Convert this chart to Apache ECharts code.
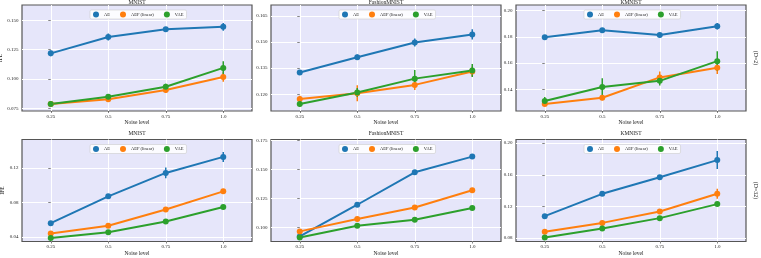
<!DOCTYPE html>
<html><head><meta charset="utf-8">
<script src="https://cdn.jsdelivr.net/npm/echarts@6/dist/echarts.min.js"></script>
<style>html,body{margin:0;padding:0;background:#fff}#c{width:761px;height:258px}</style>
</head><body><div id="c"></div>
<script>
const noise = ['0.25', '0.5', '0.75', '1.0'];
const datasets = ['MNIST', 'FashionMNIST', 'KMNIST'];
const methods = ['AE', 'AEF (linear)', 'VAE'];
const rowLabels = ['(D=2)', '(D=32)'];
const colors = ['#1f77b4', '#ff7f0e', '#2ca02c'];
const yName = 'IFE';

// D=2 row
const d2_mnist_ae = [0.1218, 0.1358, 0.1423, 0.1444];
const d2_mnist_ae_err = [0.0025, 0.003, 0.002, 0.0033];
const d2_mnist_aef = [0.0787, 0.0827, 0.0906, 0.1017];
const d2_mnist_aef_err = [0.0008, 0.0012, 0.0025, 0.004];
const d2_mnist_vae = [0.0787, 0.0849, 0.0934, 0.1094];
const d2_mnist_vae_err = [0.0008, 0.002, 0.0026, 0.0057];

const d2_fashion_ae = [0.1325, 0.1413, 0.1498, 0.1544];
const d2_fashion_ae_err = [0.001, 0.0015, 0.0023, 0.0029];
const d2_fashion_aef = [0.1173, 0.1206, 0.1254, 0.1331];
const d2_fashion_aef_err = [0.0019, 0.0046, 0.0029, 0.0029];
const d2_fashion_vae = [0.1144, 0.1210, 0.1290, 0.1337];
const d2_fashion_vae_err = [0.0015, 0.0026, 0.005, 0.0037];

const d2_kmnist_ae = [0.1797, 0.1851, 0.1815, 0.1881];
const d2_kmnist_ae_err = [0.0012, 0.0012, 0.0015, 0.0025];
const d2_kmnist_aef = [0.1288, 0.1336, 0.1491, 0.1564];
const d2_kmnist_aef_err = [0.0015, 0.002, 0.0045, 0.0047];
const d2_kmnist_vae = [0.1311, 0.1418, 0.1465, 0.1615];
const d2_kmnist_vae_err = [0.003, 0.0066, 0.0036, 0.0075];

// D=32 row
const d32_mnist_ae = [0.0559, 0.0870, 0.1142, 0.1328];
const d32_mnist_ae_err = [0.001, 0.0012, 0.0062, 0.0058];
const d32_mnist_aef = [0.0439, 0.0528, 0.0718, 0.0928];
const d32_mnist_aef_err = [0.001, 0.001, 0.001, 0.0015];
const d32_mnist_vae = [0.0388, 0.0454, 0.0579, 0.0746];
const d32_mnist_vae_err = [0.0008, 0.0008, 0.0008, 0.0008];

const d32_fashion_ae = [0.0922, 0.1195, 0.1474, 0.1609];
const d32_fashion_ae_err = [0.001, 0.001, 0.001, 0.0015];
const d32_fashion_aef = [0.0966, 0.1072, 0.1172, 0.1319];
const d32_fashion_aef_err = [0.001, 0.001, 0.001, 0.001];
const d32_fashion_vae = [0.0914, 0.1014, 0.1066, 0.1167];
const d32_fashion_vae_err = [0.001, 0.001, 0.001, 0.001];

const d32_kmnist_ae = [0.1078, 0.1360, 0.1570, 0.1786];
const d32_kmnist_ae_err = [0.0015, 0.0015, 0.0015, 0.0114];
const d32_kmnist_aef = [0.0880, 0.0993, 0.1137, 0.1360];
const d32_kmnist_aef_err = [0.001, 0.001, 0.0015, 0.0063];
const d32_kmnist_vae = [0.0808, 0.0922, 0.1053, 0.1230];
const d32_kmnist_vae_err = [0.001, 0.001, 0.001, 0.002];

// y-axis ranges and tick labels per panel (row-major)
const yMin = [0.0727, 0.1104, 0.1235, 0.0346, 0.0879, 0.0758];
const yMax = [0.1630, 0.1713, 0.2043, 0.1530, 0.1756, 0.2046];
const yTicks = [
  [0.075, 0.100, 0.125, 0.150],
  [0.120, 0.135, 0.150, 0.165],
  [0.14, 0.16, 0.18, 0.20],
  [0.04, 0.08, 0.12],
  [0.100, 0.125, 0.150, 0.175],
  [0.08, 0.12, 0.16, 0.20]
];
const yDecimals = [3, 3, 2, 2, 3, 2];

const panelData = [
  [[d2_mnist_ae, d2_mnist_ae_err], [d2_mnist_aef, d2_mnist_aef_err], [d2_mnist_vae, d2_mnist_vae_err]],
  [[d2_fashion_ae, d2_fashion_ae_err], [d2_fashion_aef, d2_fashion_aef_err], [d2_fashion_vae, d2_fashion_vae_err]],
  [[d2_kmnist_ae, d2_kmnist_ae_err], [d2_kmnist_aef, d2_kmnist_aef_err], [d2_kmnist_vae, d2_kmnist_vae_err]],
  [[d32_mnist_ae, d32_mnist_ae_err], [d32_mnist_aef, d32_mnist_aef_err], [d32_mnist_vae, d32_mnist_vae_err]],
  [[d32_fashion_ae, d32_fashion_ae_err], [d32_fashion_aef, d32_fashion_aef_err], [d32_fashion_vae, d32_fashion_vae_err]],
  [[d32_kmnist_ae, d32_kmnist_ae_err], [d32_kmnist_aef, d32_kmnist_aef_err], [d32_kmnist_vae, d32_kmnist_vae_err]]
];

// layout
const FONT = '"Liberation Serif", "DejaVu Serif", serif';
const colLeft = [22, 271, 516];
const colWidth = 230;
const rowTop = [5, 139.5];
const rowHeight = [106, 102];
const tickIdx = noise.map((_, k) => k);

const chart = echarts.init(document.getElementById('c'), null, {renderer: 'canvas'});
const option = {
  animation: false,
  backgroundColor: '#ffffff',
  color: colors,
  grid: [], xAxis: [], yAxis: [], series: [], legend: [], graphic: []
};

for (let p = 0; p < 6; p++) {
  const r = Math.floor(p / 3), c = p % 3;
  const left = colLeft[c], top = rowTop[r], w = colWidth, h = rowHeight[r];
  option.grid.push({
    left: left, top: top, width: w, height: h,
    show: true, backgroundColor: '#e6e6fa', borderColor: '#555', borderWidth: 1.2,
    outerBoundsMode: 'none', containLabel: false
  });
  option.xAxis.push({
    type: 'value', gridIndex: p, min: -0.5, max: 3.5,
    axisLine: {show: false},
    axisTick: {show: true, customValues: tickIdx, length: 2, lineStyle: {color: '#333', width: 0.6}},
    axisLabel: {customValues: tickIdx, formatter: v => noise[Math.round(v)], fontSize: 5, margin: 3, color: '#222', fontFamily: FONT},
    splitLine: {show: true, lineStyle: {color: '#ffffff', width: 1}},
    name: 'Noise level', nameLocation: 'middle', nameGap: 8,
    nameTextStyle: {fontSize: 5.5, color: '#222', fontFamily: FONT}
  });
  const dec = yDecimals[p];
  option.yAxis.push({
    type: 'value', gridIndex: p, min: yMin[p], max: yMax[p],
    axisLine: {show: false},
    axisTick: {show: true, customValues: yTicks[p], length: 2.5, lineStyle: {color: '#333', width: 0.6}},
    axisLabel: {customValues: yTicks[p], formatter: v => v.toFixed(dec), fontSize: 5, margin: 3.5, color: '#222', fontFamily: FONT},
    splitLine: {show: true, lineStyle: {color: '#ffffff', width: 1}},
    name: c === 0 ? yName : '', nameLocation: 'middle', nameGap: 13.5, nameRotate: 90,
    nameTextStyle: {fontSize: 5.5, color: '#222', fontFamily: FONT}
  });
  panelData[p].forEach((pair, m) => {
    const vals = pair[0], errs = pair[1];
    option.series.push({
      type: 'line', name: methods[m], xAxisIndex: p, yAxisIndex: p, z: 4,
      data: vals.map((v, k) => [k, v]),
      symbol: 'circle', symbolSize: 6, showSymbol: true,
      lineStyle: {width: 2, color: colors[m]},
      itemStyle: {color: colors[m]},
      emphasis: {disabled: true}
    });
    option.series.push({
      type: 'custom', name: methods[m], xAxisIndex: p, yAxisIndex: p, z: 3,
      itemStyle: {color: colors[m]},
      data: vals.map((v, k) => [k, v, errs[k]]),
      renderItem: (params, api) => {
        const x = api.value(0), v = api.value(1), e = api.value(2);
        const a = api.coord([x, v - e]), b = api.coord([x, v + e]);
        return {type: 'line', shape: {x1: a[0], y1: a[1], x2: b[0], y2: b[1]},
          style: {stroke: colors[m], lineWidth: 1.5}};
      },
      silent: true
    });
  });
  option.legend.push({
    data: methods.map((n, m) => ({name: n, itemStyle: {color: colors[m]}})),
    left: left + w / 2 - 47, top: top + 5,
    orient: 'horizontal', icon: 'circle', itemWidth: 6, itemHeight: 6, itemGap: 10,
    textStyle: {fontSize: 4.5, color: '#222', fontFamily: FONT},
    padding: [1.5, 3], backgroundColor: 'rgba(255,255,255,0.85)',
    borderColor: '#cccccc', borderWidth: 0.6, borderRadius: 1.5,
    selectedMode: false
  });
  option.graphic.push({
    type: 'text', x: left + w / 2, y: top - (r === 0 ? 2 : 5.5),
    style: {text: datasets[c], fontSize: 5.5, fill: '#222', fontFamily: FONT, align: 'center', verticalAlign: 'middle'}
  });
}
rowLabels.forEach((t, r) => {
  option.graphic.push({
    type: 'text', x: 755.5, y: rowTop[r] + rowHeight[r] / 2, rotation: -Math.PI / 2,
    style: {text: t, fontSize: 6, fill: '#222', fontFamily: FONT, align: 'center', verticalAlign: 'middle'}
  });
});

chart.setOption(option);
</script>
</body></html>
